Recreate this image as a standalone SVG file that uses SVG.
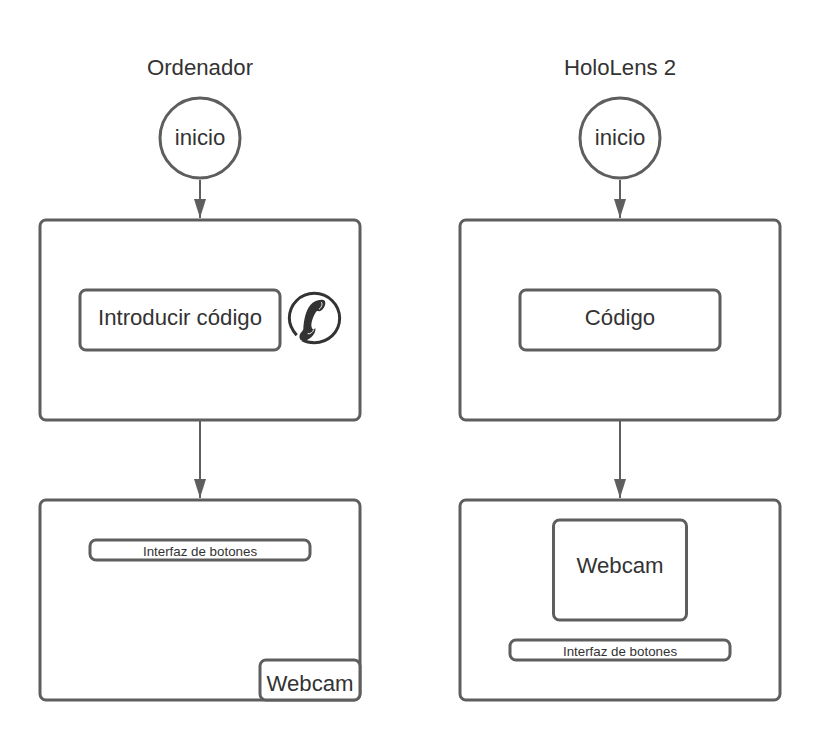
<svg xmlns="http://www.w3.org/2000/svg" width="820" height="740" viewBox="0 0 820 740">
<style>
.s{fill:#fff;stroke:#5e5e5e;stroke-width:3}
.c{stroke:#5e5e5e;stroke-width:2;fill:none}
text{font-family:"Liberation Sans",Arial,sans-serif;fill:#333;text-anchor:middle}
.t{font-size:22.2px}
.x{font-size:13.33px}
</style>
<defs>
<marker id="b" markerUnits="userSpaceOnUse" markerWidth="20" markerHeight="14" refX="19" refY="6.5" orient="auto"><path d="M0 0.500L19 6.500L0 12.500Z" fill="#5e5e5e"/></marker></defs>
<rect width="820" height="740" fill="#fff"/>
<g id="connectors">
<path class="c" d="M200 180V218" marker-end="url(#b)"/>
<path class="c" d="M200 420V498" marker-end="url(#b)"/>
<path class="c" d="M620 180V218" marker-end="url(#b)"/>
<path class="c" d="M620 420V498" marker-end="url(#b)"/>
</g>
<g id="title-ordenador"><text class="t" x="200" y="75">Ordenador</text></g>
<g id="title-hololens"><text class="t" x="620" y="75">HoloLens 2</text></g>
<g id="inicio-1"><circle class="s" cx="200" cy="138" r="40"/><text class="t" x="200" y="145">inicio</text></g>
<g id="inicio-2"><circle class="s" cx="620" cy="138" r="40"/><text class="t" x="620" y="145">inicio</text></g>
<g id="box-1"><rect class="s" x="40" y="220" width="320" height="200" rx="6"/></g>
<g id="codigo-1"><rect class="s" x="80" y="290" width="200" height="60" rx="6"/><text class="t" x="180" y="325">Introducir código</text></g>
<g id="phone" transform="translate(270 270) scale(.3333)">
<path d="M80 196C66 180 58 163 58 145C58 102 92 70 133 70C175 70 209 104 209 145C209 186 175 218 133 218C120 218 108 216 97 210" fill="none" stroke="#333" stroke-width="9"/>
<path d="M128 98C140 90 158 86 164 92C170 100 162 118 151 123C144 126 142 120 138 126C128 142 122 160 125 172C127 180 132 180 136 174C139 188 124 208 104 212C92 215 85 205 90 193C93 185 98 185 100 177C101 150 108 114 128 98Z" fill="#333"/>
<path d="M153 96C159 100 155 112 147 118M113 191C121 193 128 187 131 179" fill="none" stroke="#fff" stroke-width="3"/>
</g>
<g id="box-2"><rect class="s" x="460" y="220" width="320" height="200" rx="6"/></g>
<g id="codigo-2"><rect class="s" x="520" y="290" width="200" height="60" rx="6"/><text class="t" x="620" y="325">Código</text></g>
<g id="box-3"><rect class="s" x="40" y="500" width="320" height="200" rx="6"/></g>
<g id="interfaz-1"><rect class="s" x="90" y="540" width="220" height="20" rx="6"/><text class="x" x="200" y="556">Interfaz de botones</text></g>
<g id="webcam-1"><rect class="s" x="260" y="660" width="100" height="40" rx="6"/><text class="t" x="310" y="691">Webcam</text></g>
<g id="box-4"><rect class="s" x="460" y="500" width="320" height="200" rx="6"/></g>
<g id="webcam-2"><rect class="s" x="553.500" y="520" width="133" height="100" rx="6"/><text class="t" x="620" y="573">Webcam</text></g>
<g id="interfaz-2"><rect class="s" x="510" y="640" width="220" height="20" rx="6"/><text class="x" x="620" y="656">Interfaz de botones</text></g>
</svg>
